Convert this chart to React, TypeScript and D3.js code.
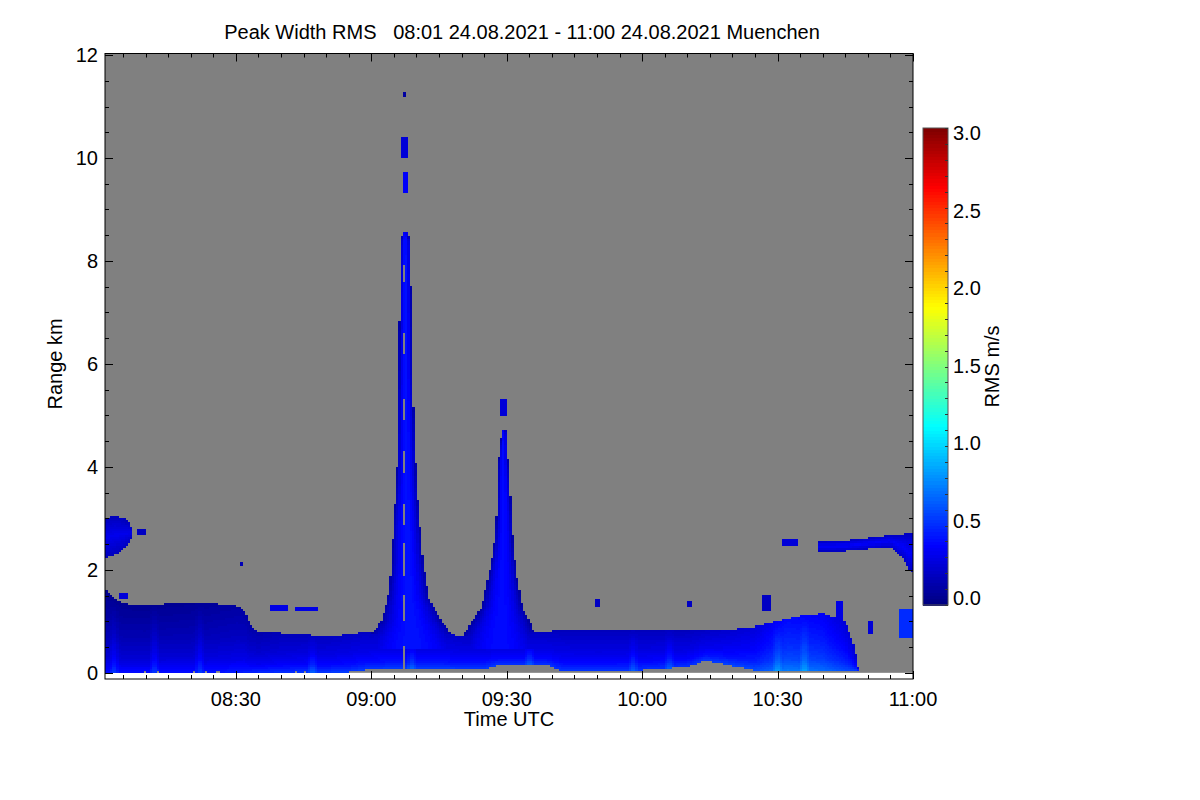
import { useRef, useEffect } from 'react';
import * as d3 from 'd3';

// time is minutes after 08:00 UTC on 24.08.2021, range in km
const day0 = Date.UTC(2021, 7, 24, 8, 0);
const toDate = (m: number) => new Date(day0 + m * 60000);
const timeStart = 1;
const timeEnd = 180;

// boundary layer top / base
const blTime = [1, 3, 5, 10, 15, 20, 25, 30, 32, 33, 35, 40, 45, 50, 55, 58, 60, 78, 80, 98, 100, 110, 120, 130, 140, 145, 150, 155, 160, 165, 167, 168];
const blTop = [1.6, 1.45, 1.35, 1.3, 1.35, 1.38, 1.35, 1.3, 1.2, 0.95, 0.8, 0.78, 0.75, 0.72, 0.75, 0.8, 0.78, 0.75, 0.7, 0.82, 0.82, 0.83, 0.85, 0.85, 0.85, 0.9, 1.0, 1.1, 1.15, 1.0, 0.5, 0];
const blBaseTime = [1, 55, 60, 85, 88, 99, 102, 120, 130, 134, 138, 145, 165, 168];
const blBase = [0.02, 0.02, 0.08, 0.08, 0.15, 0.15, 0.05, 0.06, 0.12, 0.25, 0.18, 0.05, 0.05, 0.05];

// RMS in the boundary layer: level by time, offset by relative height
const rmsTime = [1, 20, 30, 40, 55, 70, 90, 110, 130, 145, 152, 160, 167];
const rmsMid = [0.15, 0.16, 0.2, 0.26, 0.3, 0.32, 0.3, 0.28, 0.28, 0.36, 0.5, 0.45, 0.32];
const rmsFrac = [0, 0.2, 0.5, 0.8, 1];
const rmsAdj = [0.24, 0.1, 0, -0.06, -0.1];

// brighter vertical streaks near the ground (minutes)
const streakTime = [3, 12, 22, 47, 69, 95, 118, 126, 150, 156];

// convective plumes: edges (minutes) per range
const plume1Range = [0.5, 0.8, 1.03, 1.48, 2.13, 2.78, 3.75, 5.7, 7.2, 8.4, 8.55];
const plume1Left = [57.5, 60.4, 62.4, 63.7, 64.6, 64.8, 65.7, 66.1, 66.3, 66.5, 67.0];
const plume1Right = [80.5, 77.4, 75.2, 72.6, 71.4, 70.8, 69.9, 69.0, 68.8, 68.6, 67.9];
const plume1CoreTime = [67.0, 67.6];
const plume1CoreGaps = [[0.1, 0.5], [1.0, 1.5], [1.9, 2.5], [2.9, 3.3], [3.9, 4.3], [4.9, 5.3], [6.2, 6.6], [7.6, 7.9]];

const plume2Range = [0.5, 0.85, 1.28, 1.8, 2.45, 3.1, 4.08, 4.6, 4.72];
const plume2Left = [78.5, 81.2, 84.5, 85.8, 87.2, 87.8, 88.1, 88.8, 89.0];
const plume2Right = [98.5, 95.8, 93.4, 92.3, 91.4, 91.0, 90.3, 90.0, 89.8];

// elevated layers
const leftLayerTime = [1, 3, 5, 6.5, 7.2];
const leftLayerBottom = [2.25, 2.3, 2.4, 2.55, 2.7];
const leftLayerTop = [3.0, 3.05, 3.0, 2.9, 2.75];
const rightLayerTime = [159, 165, 170, 175, 178, 179.5, 180];
const rightLayerBottom = [2.38, 2.38, 2.42, 2.45, 2.2, 1.95, 1.95];
const rightLayerTop = [2.55, 2.57, 2.62, 2.68, 2.7, 2.7, 2.7];

// isolated echoes: [t0, t1, r0, r1, rms]
const patches = [
  [7.8, 10, 2.7, 2.82, 0.2],
  [30.8, 31.3, 2.1, 2.14, 0.15],
  [4.0, 6.0, 1.45, 1.55, 0.25],
  [37.5, 41.5, 1.2, 1.32, 0.3],
  [43, 48, 1.2, 1.28, 0.3],
  [88.5, 90.1, 5.0, 5.3, 0.25],
  [109.5, 110.6, 1.3, 1.45, 0.2],
  [130, 131, 1.3, 1.4, 0.2],
  [146.5, 148.5, 1.2, 1.5, 0.2],
  [151.2, 154.3, 2.48, 2.58, 0.25],
  [163, 164.5, 0.9, 1.4, 0.3],
  [170, 171, 0.75, 1.0, 0.25],
  [177, 180, 0.7, 1.25, 0.5],
  [67.2, 67.8, 9.3, 9.7, 0.35],
  [66.6, 68.2, 10.0, 10.4, 0.25],
  [67.0, 67.6, 11.2, 11.28, 0.1],
];

const jetStops = ['#00007f', '#0000ff', '#007fff', '#00ffff', '#7fff7f', '#ffff00', '#ff7f00', '#ff0000', '#7f0000'];
const rangeTicks = [0, 2, 4, 6, 8, 10, 12];
const cbTicks = [0, 0.5, 1, 1.5, 2, 2.5, 3];

const font = '"Liberation Sans", Arial, Helvetica, sans-serif';

export default function App() {
  const svgRef = useRef<SVGSVGElement>(null);

  useEffect(() => {
    if (!svgRef.current) return;
    const svg = d3.select(svgRef.current);
    svg.selectAll('*').remove();

    const plot = { left: 105, right: 913, top: 53.5, bottom: 679 };

    const x = d3.scaleUtc()
      .domain([toDate(timeStart), toDate(timeEnd)])
      .range([plot.left, plot.right]);
    const y = d3.scaleLinear()
      .domain([-0.12, 12.03])
      .range([plot.bottom, plot.top]);

    const color = d3.scaleLinear<string>()
      .domain(jetStops.map((_, i) => (i * 3) / (jetStops.length - 1)))
      .range(jetStops)
      .clamp(true);

    const lin = (d: number[], r: number[]) => d3.scaleLinear().domain(d).range(r).clamp(true);
    const blTopAt = lin(blTime, blTop);
    const blBaseAt = lin(blBaseTime, blBase);
    const rmsAt = lin(rmsTime, rmsMid);
    const adjAt = lin(rmsFrac, rmsAdj);
    const p1L = lin(plume1Range, plume1Left);
    const p1R = lin(plume1Range, plume1Right);
    const p2L = lin(plume2Range, plume2Left);
    const p2R = lin(plume2Range, plume2Right);
    const llB = lin(leftLayerTime, leftLayerBottom);
    const llT = lin(leftLayerTime, leftLayerTop);
    const rlB = lin(rightLayerTime, rightLayerBottom);
    const rlT = lin(rightLayerTime, rightLayerTop);

    const plumeValue = (t: number, l: number, r: number) => {
      const c = (l + r) / 2;
      const h = (r - l) / 2;
      const d = Math.abs(t - c) / h;
      return 0.42 - 0.3 * d * d;
    };

    const inCore = (t: number, r: number) =>
      t >= plume1CoreTime[0] && t <= plume1CoreTime[1]
      && plume1CoreGaps.some(g => r >= g[0] && r <= g[1]);

    const valueAt = (t: number, r: number): number | null => {
      if (inCore(t, r)) return null;
      const top = blTopAt(t), base = blBaseAt(t);
      const inBL = r >= base && r <= top;
      const frac = (r - base) / Math.max(top - base, 0.01);
      // plume 1
      if (r >= plume1Range[0] && r <= plume1Range[plume1Range.length - 1]) {
        const l = p1L(r), rr = p1R(r);
        if (t >= l && t <= rr) {
          const pv = plumeValue(t, l, rr);
          return inBL ? Math.max(pv, rmsAt(t) + adjAt(frac)) : pv;
        }
      }
      // plume 2
      if (r >= plume2Range[0] && r <= plume2Range[plume2Range.length - 1]) {
        const l = p2L(r), rr = p2R(r);
        if (t >= l && t <= rr) {
          const pv = plumeValue(t, l, rr) - 0.02;
          return inBL ? Math.max(pv, rmsAt(t) + adjAt(frac)) : pv;
        }
      }
      // boundary layer
      if (inBL) {
        let v = rmsAt(t) + adjAt(frac);
        for (const s of streakTime) {
          const d = Math.abs(t - s);
          if (d < 1.2) v += 0.16 * (1 - d / 1.2) * (1 - frac);
        }
        return v;
      }
      // elevated layers
      if (t <= leftLayerTime[leftLayerTime.length - 1]) {
        const b = llB(t), tp = llT(t);
        if (r >= b && r <= tp) return 0.18 + 0.14 * (1 - Math.abs((r - (b + tp) / 2) / ((tp - b) / 2)));
      }
      if (t >= rightLayerTime[0]) {
        const b = rlB(t), tp = rlT(t);
        if (r >= b && r <= tp) return 0.2 + 0.16 * (1 - Math.abs((r - (b + tp) / 2) / ((tp - b) / 2)));
      }
      for (const p of patches) {
        if (t >= p[0] && t <= p[1] && r >= p[2] && r <= p[3]) return p[4];
      }
      return null;
    };

    // clip
    svg.append('defs').append('clipPath').attr('id', 'plot-clip')
      .append('rect')
      .attr('x', plot.left).attr('y', plot.top)
      .attr('width', plot.right - plot.left).attr('height', plot.bottom - plot.top);

    const g = svg.append('g').attr('clip-path', 'url(#plot-clip)');

    // no-signal background above ground
    g.append('rect')
      .attr('x', plot.left)
      .attr('y', y(12.03))
      .attr('width', plot.right - plot.left)
      .attr('height', y(0) - y(12.03))
      .attr('fill', '#808080');

    // cells
    const dt = 0.5, dr = 0.04;
    const cells: { t: number; r0: number; r1: number; q: number }[] = [];
    for (let t = timeStart; t < timeEnd; t += dt) {
      let run: { t: number; r0: number; r1: number; q: number } | null = null;
      for (let j = 0; j * dr < 12; j++) {
        const r0 = j * dr;
        const v = valueAt(t + dt / 2, r0 + dr / 2);
        if (v === null) { if (run) { cells.push(run); run = null; } continue; }
        const q = Math.round(Math.max(0, v) / 0.02);
        if (run && run.q === q) run.r1 = r0 + dr;
        else {
          if (run) cells.push(run);
          run = { t, r0, r1: r0 + dr, q };
        }
      }
      if (run) cells.push(run);
    }

    g.append('g').attr('shape-rendering', 'crispEdges')
      .selectAll('rect')
      .data(cells)
      .join('rect')
      .attr('x', d => x(toDate(d.t)))
      .attr('width', d => x(toDate(d.t + dt)) - x(toDate(d.t)) + 0.4)
      .attr('y', d => y(d.r1))
      .attr('height', d => y(d.r0) - y(d.r1) + 0.4)
      .attr('fill', d => color(d.q * 0.02));

    // frame + ticks
    const axis = svg.append('g').attr('stroke', '#000').attr('stroke-width', 1);
    axis.append('rect')
      .attr('x', plot.left).attr('y', plot.top)
      .attr('width', plot.right - plot.left).attr('height', plot.bottom - plot.top)
      .attr('fill', 'none');

    const minuteTicks = d3.utcMinute.every(5)!.range(toDate(timeStart), toDate(timeEnd + 0.01));
    minuteTicks.forEach(d => {
      const major = d.getUTCMinutes() % 30 === 0;
      const len = major ? 8 : 4;
      const xx = Math.round(x(d)) + 0.5;
      axis.append('line').attr('x1', xx).attr('x2', xx).attr('y1', plot.bottom).attr('y2', plot.bottom - len);
      axis.append('line').attr('x1', xx).attr('x2', xx).attr('y1', plot.top).attr('y2', plot.top + len);
    });
    d3.range(0, 12.01, 0.5).forEach(v => {
      const major = v % 2 === 0;
      const len = major ? 8 : 4;
      const yy = Math.round(y(v)) + 0.5;
      axis.append('line').attr('x1', plot.left).attr('x2', plot.left + len).attr('y1', yy).attr('y2', yy);
      axis.append('line').attr('x1', plot.right).attr('x2', plot.right - len).attr('y1', yy).attr('y2', yy);
    });

    const labels = svg.append('g').attr('font-family', font).attr('fill', '#000');
    const fmt = d3.utcFormat('%H:%M');
    minuteTicks.filter(d => d.getUTCMinutes() % 30 === 0).forEach(d => {
      labels.append('text')
        .attr('x', x(d)).attr('y', 706)
        .attr('text-anchor', 'middle').attr('font-size', 20)
        .text(fmt(d));
    });
    rangeTicks.forEach(v => {
      labels.append('text')
        .attr('x', 98).attr('y', y(v)).attr('dy', '0.35em')
        .attr('text-anchor', 'end').attr('font-size', 20)
        .text(v);
    });

    labels.append('text')
      .attr('x', (plot.left + plot.right) / 2).attr('y', 726)
      .attr('text-anchor', 'middle').attr('font-size', 20)
      .text('Time UTC');
    labels.append('text')
      .attr('transform', `translate(62,${(y(0) + y(12)) / 2}) rotate(-90)`)
      .attr('text-anchor', 'middle').attr('font-size', 20)
      .text('Range km');
    labels.append('text')
      .attr('x', 522).attr('y', 39)
      .attr('text-anchor', 'middle').attr('font-size', 20)
      .attr('xml:space', 'preserve')
      .text('Peak Width RMS   08:01 24.08.2021 - 11:00 24.08.2021 Muenchen');

    // colour bar
    const cb = { left: 923, right: 948, top: 128, bottom: 605 };
    const cbY = d3.scaleLinear().domain([0, 3]).range([cb.bottom, cb.top]);
    const cbLabelY = d3.scaleLinear().domain([0, 3]).range([598, 133]);
    const cbG = svg.append('g');
    cbG.append('g').attr('shape-rendering', 'crispEdges')
      .selectAll('rect')
      .data(d3.range(0, 3, 0.02))
      .join('rect')
      .attr('x', cb.left)
      .attr('width', cb.right - cb.left)
      .attr('y', d => cbY(d + 0.02))
      .attr('height', d => cbY(d) - cbY(d + 0.02) + 0.5)
      .attr('fill', d => color(d + 0.01));
    cbG.append('rect')
      .attr('x', cb.left).attr('y', cb.top)
      .attr('width', cb.right - cb.left).attr('height', cb.bottom - cb.top)
      .attr('fill', 'none').attr('stroke', '#555');
    d3.range(0, 3.001, 0.1).forEach(v => {
      const yy = Math.round(cbY(v)) + 0.5;
      cbG.append('line')
        .attr('x1', cb.right).attr('x2', cb.right - 3)
        .attr('y1', yy).attr('y2', yy)
        .attr('stroke', '#333');
    });
    cbTicks.forEach(v => {
      labels.append('text')
        .attr('x', 953).attr('y', cbLabelY(v)).attr('dy', '0.35em')
        .attr('font-size', 20)
        .text(v.toFixed(1));
    });
    labels.append('text')
      .attr('transform', `translate(999,${(cb.top + cb.bottom) / 2}) rotate(-90)`)
      .attr('text-anchor', 'middle').attr('font-size', 20)
      .text('RMS m/s');
  }, []);

  return (
    <div style={{ position: 'absolute', left: 0, top: 0, background: '#fff' }}>
      <svg ref={svgRef} width={1200} height={800} />
    </div>
  );
}
